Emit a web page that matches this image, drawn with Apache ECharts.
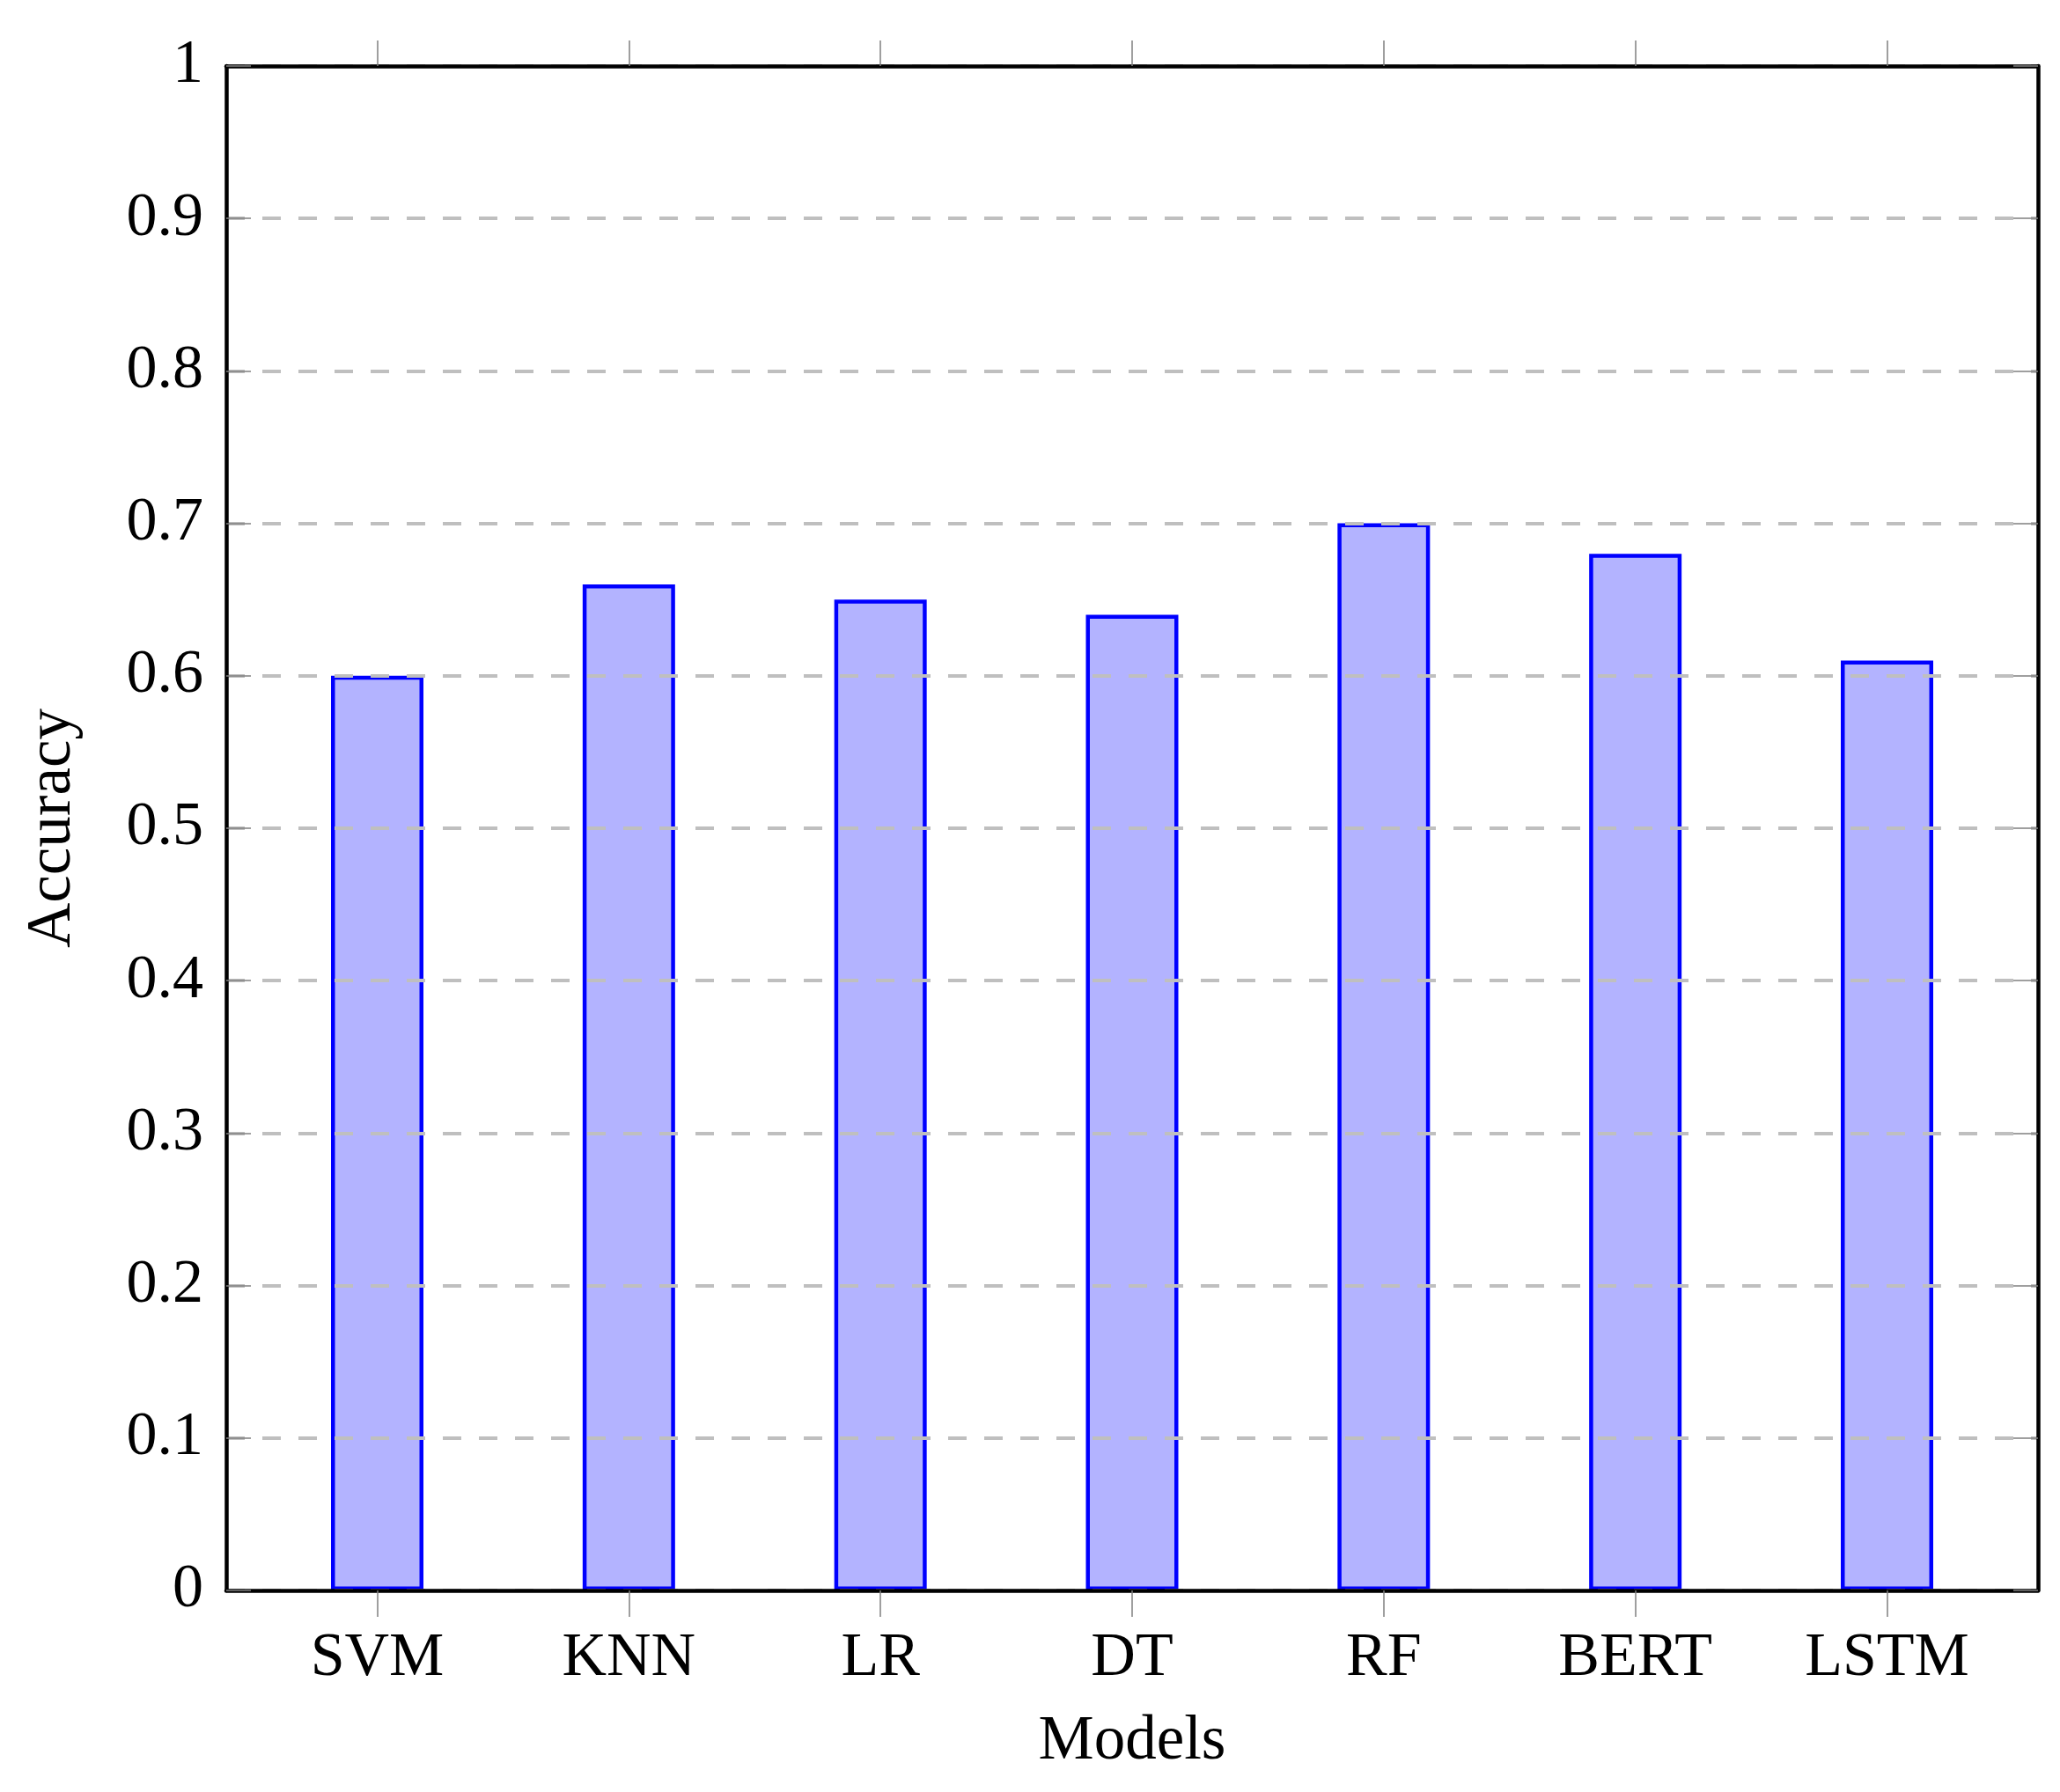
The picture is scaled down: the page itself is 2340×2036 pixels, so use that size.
<!DOCTYPE html>
<html>
<head>
<meta charset="utf-8">
<script src="https://cdn.jsdelivr.net/npm/echarts@6/dist/echarts.min.js"></script>
<style>
html,body{margin:0;padding:0;background:#fff;}
#chart{width:2340px;height:2036px;}
</style>
</head>
<body>
<div id="chart"></div>
<script>
const categories = ['SVM', 'KNN', 'LR', 'DT', 'RF', 'BERT', 'LSTM'];
const accuracy = [0.60, 0.66, 0.65, 0.64, 0.70, 0.68, 0.61];
const yMin = 0, yMax = 1, yStep = 0.1;
const xName = 'Models';
const yName = 'Accuracy';

const catIdx = categories.map((c, i) => i);
const FONT = 'Liberation Serif';

const chart = echarts.init(document.getElementById('chart'), null, {renderer: 'canvas'});
chart.setOption({
  backgroundColor: '#ffffff',
  animation: false,
  grid: {left: 257, right: 25, top: 75, bottom: 229, containLabel: false, outerBoundsMode: 'none'},
  xAxis: [
    {
      type: 'value', position: 'bottom', min: -0.6, max: categories.length - 0.4,
      name: xName, nameLocation: 'middle', nameGap: 137,
      nameTextStyle: {fontFamily: FONT, fontSize: 71, color: '#000'},
      axisLine: {show: true, onZero: false, lineStyle: {color: '#000', width: 4.5}},
      axisTick: {show: true, inside: false, length: 30, customValues: catIdx, lineStyle: {color: '#808080', width: 1.5}},
      axisLabel: {show: true, margin: 43, customValues: catIdx, fontFamily: FONT, fontSize: 70, color: '#000',
        formatter: v => categories[Math.round(v)]},
      splitLine: {show: false},
      z: 5
    },
    {
      type: 'value', position: 'top', min: -0.6, max: categories.length - 0.4,
      axisLine: {show: true, onZero: false, lineStyle: {color: '#000', width: 4.5}},
      axisTick: {show: true, inside: false, length: 29, customValues: catIdx, lineStyle: {color: '#808080', width: 1.5}},
      axisLabel: {show: false},
      splitLine: {show: false},
      z: 5
    }
  ],
  yAxis: [
    {
      type: 'value', position: 'left', min: yMin, max: yMax, interval: yStep,
      name: yName, nameLocation: 'middle', nameGap: 161, nameRotate: 90,
      nameTextStyle: {fontFamily: FONT, fontSize: 71, color: '#000'},
      axisLine: {show: true, onZero: false, lineStyle: {color: '#000', width: 4.5}},
      axisTick: {show: true, inside: true, length: 28, lineStyle: {color: '#808080', width: 1.5}},
      axisLabel: {show: true, margin: 26, fontFamily: FONT, fontSize: 70, color: '#000'},
      splitLine: {show: true, lineStyle: {color: '#bfbfbf', width: 4, type: [21, 20]}},
      z: 5
    },
    {
      type: 'value', position: 'right', min: yMin, max: yMax, interval: yStep,
      axisLine: {show: true, onZero: false, lineStyle: {color: '#000', width: 4.5}},
      axisTick: {show: true, inside: true, length: 28, lineStyle: {color: '#808080', width: 1.5}},
      axisLabel: {show: false},
      splitLine: {show: false},
      z: 5
    }
  ],
  series: [{
    type: 'bar',
    xAxisIndex: 0, yAxisIndex: 0,
    barWidth: 105,
    data: accuracy.map((v, i) => [i, v]),
    itemStyle: {color: '#b3b3ff', borderColor: '#0000ff', borderWidth: 4.5},
    z: 3
  }]
});
</script>
</body>
</html>
